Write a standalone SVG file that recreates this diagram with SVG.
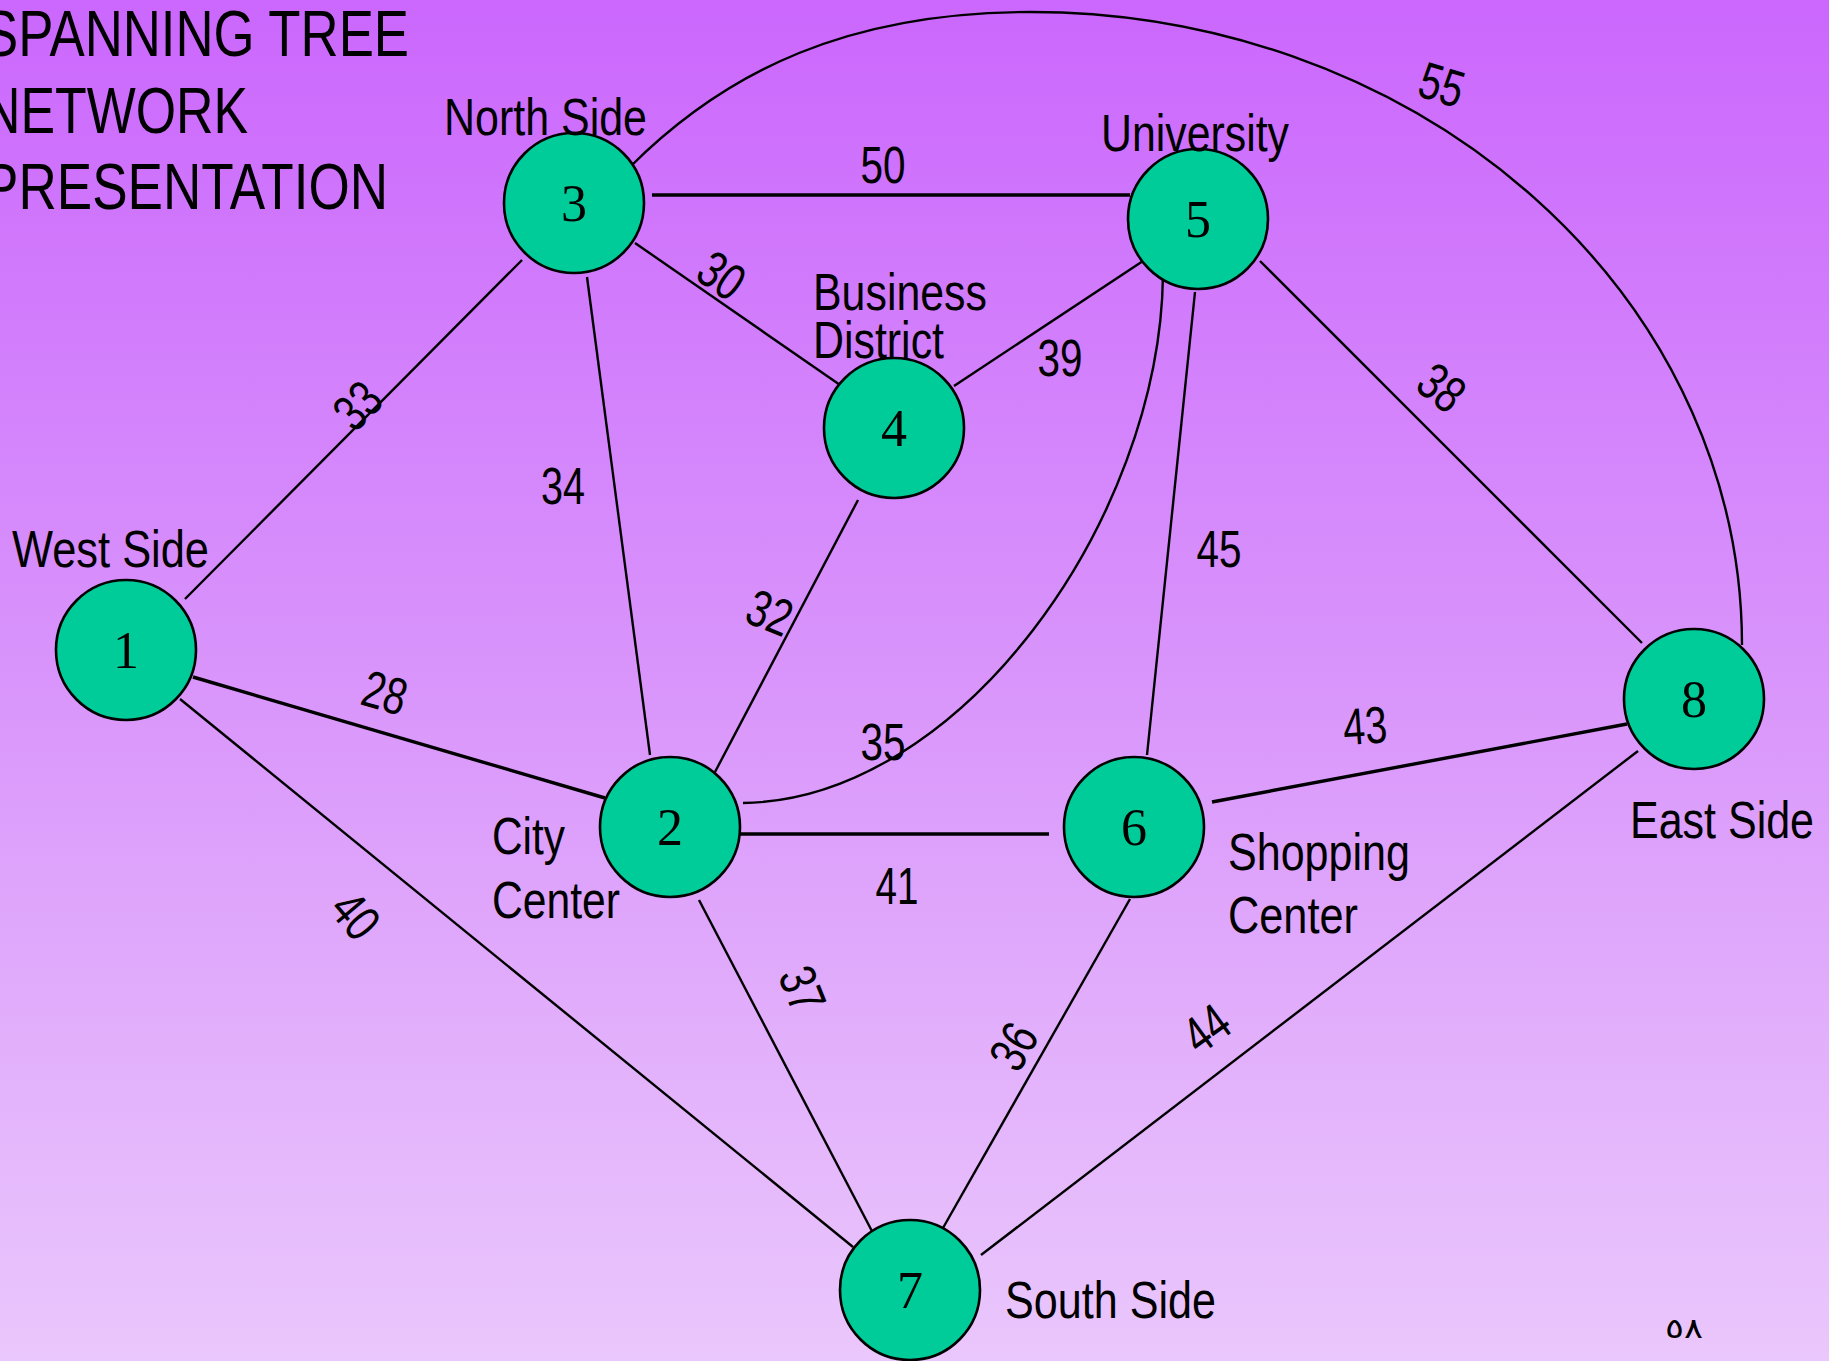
<svg xmlns="http://www.w3.org/2000/svg" width="1829" height="1361" viewBox="0 0 1829 1361">
  <defs>
    <linearGradient id="bg" x1="0" y1="0" x2="0" y2="1">
      <stop offset="0" stop-color="#CB67FD"/>
      <stop offset="0.5" stop-color="#D995FB"/>
      <stop offset="1" stop-color="#EAC7FC"/>
    </linearGradient>
  </defs>
  <style>
    .edge { fill: none; stroke: #000; stroke-width: 2.4; }
    .thick { stroke-width: 3.4; }
    .node { fill: #00CC99; stroke: #000; stroke-width: 2.6; }
    .num { font-family: "Liberation Serif", "Times New Roman", serif; font-size: 52px; fill: #000; text-anchor: middle; }
    .lbl { font-family: "Liberation Sans Narrow", "Liberation Sans", Arial, sans-serif; font-size: 52px; fill: #000; }
    .w { font-family: "Liberation Sans Narrow", "Liberation Sans", Arial, sans-serif; font-size: 52px; fill: #000; text-anchor: middle; }
    .title { font-family: "Liberation Sans Narrow", "Liberation Sans", Arial, sans-serif; font-size: 64px; fill: #000; }
  </style>

  <rect x="0" y="0" width="1829" height="1361" fill="url(#bg)"/>

  <!-- heading -->
  <g id="title">
    <text class="title" x="-17" y="56" textLength="426" lengthAdjust="spacingAndGlyphs">SPANNING TREE</text>
    <text class="title" x="-17" y="133" textLength="265" lengthAdjust="spacingAndGlyphs">NETWORK</text>
    <text class="title" x="-17" y="209" textLength="405" lengthAdjust="spacingAndGlyphs">PRESENTATION</text>
  </g>

  <!-- connectors -->
  <g id="edges">
    <line class="edge" x1="185" y1="599" x2="522" y2="260"/>
    <line class="edge thick" x1="193" y1="677" x2="605" y2="798"/>
    <line class="edge" x1="180" y1="699" x2="853" y2="1247"/>
    <line class="edge" x1="587" y1="277" x2="650" y2="755"/>
    <line class="edge thick" x1="652" y1="195" x2="1130" y2="195"/>
    <line class="edge" x1="635" y1="243" x2="843" y2="387"/>
    <line class="edge" x1="954" y1="386" x2="1146" y2="259"/>
    <line class="edge" x1="858" y1="500" x2="715" y2="772"/>
    <line class="edge" x1="1195" y1="292" x2="1147" y2="755"/>
    <line class="edge" x1="1260" y1="261" x2="1642" y2="643"/>
    <line class="edge thick" x1="732" y1="834" x2="1049" y2="834"/>
    <line class="edge" x1="699" y1="900" x2="874" y2="1235"/>
    <line class="edge thick" x1="1212" y1="802" x2="1627" y2="724"/>
    <line class="edge" x1="1130" y1="899" x2="939" y2="1235"/>
    <line class="edge" x1="1638" y1="751" x2="981" y2="1255"/>
    <!-- 3 to 8 over the top -->
    <path class="edge" d="M 630 167 C 728 69 851 12 1031 12 A 711 633 0 0 1 1742 645"/>
    <!-- 5 to 2 sweeping curve -->
    <path class="edge" d="M 1163 275 C 1160 520 960 800 743 803"/>
  </g>

  <!-- edge weights -->
  <g id="weights">
    <text class="w" x="883" y="164" dy="0.36em" textLength="45" lengthAdjust="spacingAndGlyphs">50</text>
    <text class="w" transform="translate(722,275) rotate(35)" dy="0.36em" textLength="44" lengthAdjust="spacingAndGlyphs">30</text>
    <text class="w" transform="translate(357,405) rotate(-45)" dy="0.36em" textLength="44" lengthAdjust="spacingAndGlyphs">33</text>
    <text class="w" x="563" y="485" dy="0.36em" textLength="44" lengthAdjust="spacingAndGlyphs">34</text>
    <text class="w" x="1060" y="357" dy="0.36em" textLength="45" lengthAdjust="spacingAndGlyphs">39</text>
    <text class="w" transform="translate(770,612) rotate(22)" dy="0.36em" textLength="44" lengthAdjust="spacingAndGlyphs">32</text>
    <text class="w" transform="translate(385,692) rotate(16)" dy="0.36em" textLength="44" lengthAdjust="spacingAndGlyphs">28</text>
    <text class="w" x="883" y="741" dy="0.36em" textLength="45" lengthAdjust="spacingAndGlyphs">35</text>
    <text class="w" x="1219" y="548" dy="0.36em" textLength="45" lengthAdjust="spacingAndGlyphs">45</text>
    <text class="w" transform="translate(1442,387) rotate(38)" dy="0.36em" textLength="44" lengthAdjust="spacingAndGlyphs">38</text>
    <text class="w" transform="translate(1442,84) rotate(17)" dy="0.36em" textLength="44" lengthAdjust="spacingAndGlyphs">55</text>
    <text class="w" x="897" y="885" dy="0.36em" textLength="43" lengthAdjust="spacingAndGlyphs">41</text>
    <text class="w" transform="translate(1365,725) rotate(-4)" dy="0.36em" textLength="44" lengthAdjust="spacingAndGlyphs">43</text>
    <text class="w" transform="translate(356,915) rotate(50)" dy="0.36em" textLength="44" lengthAdjust="spacingAndGlyphs">40</text>
    <text class="w" transform="translate(803,989) rotate(68)" dy="0.36em" textLength="44" lengthAdjust="spacingAndGlyphs">37</text>
    <text class="w" transform="translate(1013,1046) rotate(-60)" dy="0.36em" textLength="44" lengthAdjust="spacingAndGlyphs">36</text>
    <text class="w" transform="translate(1206,1028) rotate(-36)" dy="0.36em" textLength="44" lengthAdjust="spacingAndGlyphs">44</text>
  </g>

  <!-- nodes -->
  <g id="node1">
    <circle class="node" cx="126" cy="650" r="70"/>
    <text class="num" x="126" y="668">1</text>
    <text class="lbl" x="12" y="567" textLength="197" lengthAdjust="spacingAndGlyphs">West Side</text>
  </g>
  <g id="node2">
    <circle class="node" cx="670" cy="827" r="70"/>
    <text class="num" x="670" y="845">2</text>
    <text class="lbl" x="492" y="854" textLength="73" lengthAdjust="spacingAndGlyphs">City</text>
    <text class="lbl" x="492" y="918" textLength="128" lengthAdjust="spacingAndGlyphs">Center</text>
  </g>
  <g id="node3">
    <circle class="node" cx="574" cy="203" r="70"/>
    <text class="num" x="574" y="221">3</text>
    <text class="lbl" x="444" y="135" textLength="203" lengthAdjust="spacingAndGlyphs">North Side</text>
  </g>
  <g id="node4">
    <circle class="node" cx="894" cy="428" r="70"/>
    <text class="num" x="894" y="446">4</text>
    <text class="lbl" x="813" y="310" textLength="174" lengthAdjust="spacingAndGlyphs">Business</text>
    <text class="lbl" x="813" y="358" textLength="131" lengthAdjust="spacingAndGlyphs">District</text>
  </g>
  <g id="node5">
    <circle class="node" cx="1198" cy="219" r="70"/>
    <text class="num" x="1198" y="237">5</text>
    <text class="lbl" x="1101" y="151" textLength="188" lengthAdjust="spacingAndGlyphs">University</text>
  </g>
  <g id="node6">
    <circle class="node" cx="1134" cy="827" r="70"/>
    <text class="num" x="1134" y="845">6</text>
    <text class="lbl" x="1228" y="870" textLength="182" lengthAdjust="spacingAndGlyphs">Shopping</text>
    <text class="lbl" x="1228" y="933" textLength="130" lengthAdjust="spacingAndGlyphs">Center</text>
  </g>
  <g id="node7">
    <circle class="node" cx="910" cy="1290" r="70"/>
    <text class="num" x="910" y="1308">7</text>
    <text class="lbl" x="1005" y="1318" textLength="211" lengthAdjust="spacingAndGlyphs">South Side</text>
  </g>
  <g id="node8">
    <circle class="node" cx="1694" cy="699" r="70"/>
    <text class="num" x="1694" y="717">8</text>
    <text class="lbl" x="1630" y="838" textLength="184" lengthAdjust="spacingAndGlyphs">East Side</text>
  </g>

  <!-- slide number -->
  <text x="1665" y="1338" font-family="'DejaVu Sans', 'Noto Sans', sans-serif" font-size="28" textLength="38" lengthAdjust="spacingAndGlyphs">٥٨</text>
</svg>
